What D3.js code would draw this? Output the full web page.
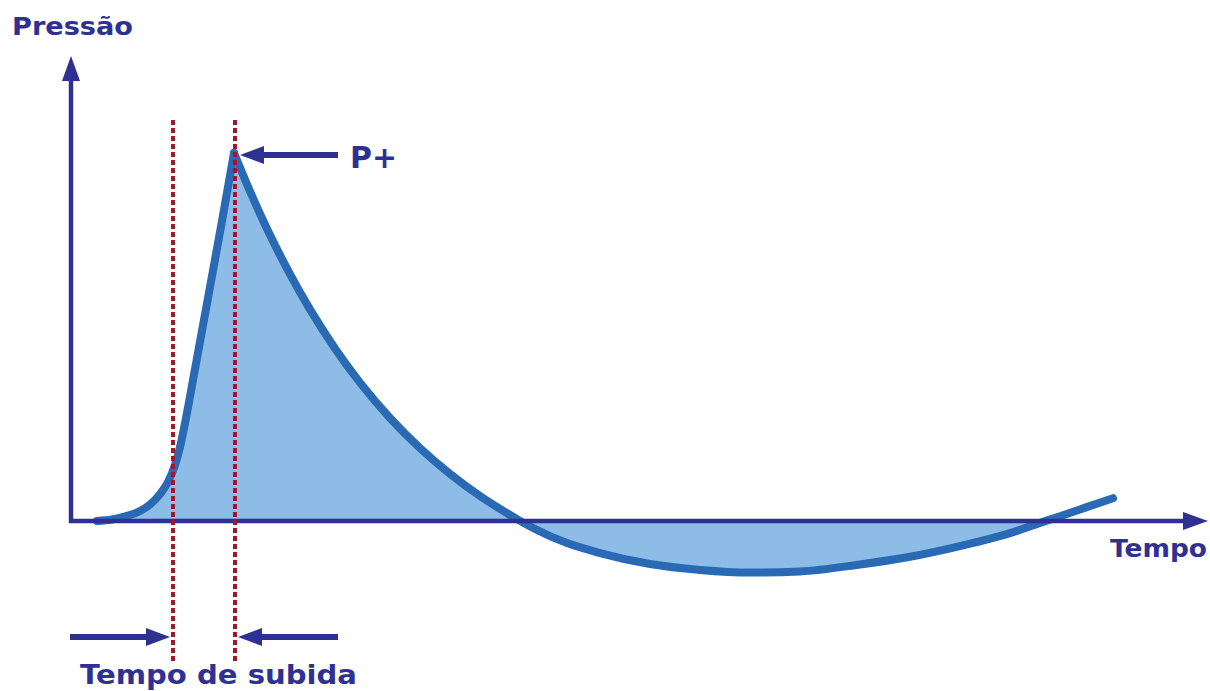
<!DOCTYPE html>
<html><head><meta charset="utf-8">
<script src="https://cdn.jsdelivr.net/npm/d3@7"></script>
<style>html,body{margin:0;padding:0;background:#fff;}svg{display:block;}</style>
</head><body>
<svg id="chart" width="1210" height="691"></svg>
<script>
// ---- data (time in arbitrary units, pressure normalised to P+ = 1) ----
const riseTime     = [2.6, 4.1, 5.6, 6.9, 7.9, 8.9, 9.7, 10.4, 10.9, 11.5, 12.4, 13.9, 15.1, 16.3];
const risePressure = [0, 0.004, 0.014, 0.027, 0.045, 0.073, 0.106, 0.152, 0.201, 0.280, 0.413, 0.636, 0.815, 1.0];
const fallTime     = [16.3, 17.9, 19.9, 21.9, 23.9, 26.4, 28.9, 31.9, 34.9, 37.9, 40.9, 42.9, 44.6, 46.2, 49.6, 52.9, 57.9, 62.9, 67.9, 72.9, 78.9, 83.9, 88.9, 93.9, 96.9, 98.9, 101.5, 104.2];
const fallPressure = [1.0, 0.896, 0.777, 0.671, 0.575, 0.469, 0.376, 0.280, 0.198, 0.128, 0.068, 0.033, 0.005, -0.019, -0.060, -0.087, -0.117, -0.133, -0.140, -0.137, -0.118, -0.097, -0.068, -0.033, -0.005, 0.013, 0.037, 0.062];
const riseStart = 10.2;   // start of rise time marker
const peakTime  = 16.4;   // time of P+
const markers   = [riseStart, peakTime];
const labels = {y: "Pressão", x: "Tempo", peak: "P+", rise: "Tempo de subida"};

// ---- scales ----
const x = d3.scaleLinear().domain([0, 100]).range([71, 1071]);
const y = d3.scaleLinear().domain([0, 1]).range([521, 153]);

const svg = d3.select("#chart");
const navy = "#2e3192", curveBlue = "#2a6ab5", fillBlue = "#8dbce6", red = "#9b1b2b";

const rise = riseTime.map((t, i) => [t, risePressure[i]]);
const fall = fallTime.map((t, i) => [t, fallPressure[i]]);

// fill: until the second zero crossing
const zeroCross = 97.3;
const fillFall = fall.filter(d => d[0] < zeroCross).concat([[zeroCross, 0]]);

const lineM = d3.line().x(d => x(d[0])).y(d => y(d[1])).curve(d3.curveMonotoneX);
const riseD = lineM(rise);
const fallD = lineM(fall);
const fillD = riseD + "L" + lineM(fillFall).slice(1) + "Z";

svg.append("path").attr("d", fillD).attr("fill", fillBlue).attr("stroke", "none");

function arrowHead(g, tip, dir, len, half) {
  const [tx, ty] = tip, [dx, dy] = dir, px = -dy, py = dx;
  const bx = tx - dx * len, by = ty - dy * len;
  g.append("path")
    .attr("d", `M${tx},${ty}L${bx + px * half},${by + py * half}L${bx - px * half},${by - py * half}Z`)
    .attr("fill", navy);
}
const x0 = x(0), yTop = 56, xEnd = 1208;

// curve
[riseD, fallD].forEach(d => svg.append("path").attr("d", d).attr("fill", "none")
  .attr("stroke", curveBlue).attr("stroke-width", 8)
  .attr("stroke-linecap", "round").attr("stroke-linejoin", "round"));

// axes
const axes = svg.append("g");
axes.append("line").attr("x1", x0).attr("y1", y(0) + 2).attr("x2", x0).attr("y2", yTop + 20)
  .attr("stroke", navy).attr("stroke-width", 4.5);
arrowHead(axes, [x0, yTop], [0, -1], 25, 9);
axes.append("line").attr("x1", x0 - 2).attr("y1", y(0)).attr("x2", xEnd - 20).attr("y2", y(0))
  .attr("stroke", navy).attr("stroke-width", 4.5);
arrowHead(axes, [xEnd, y(0)], [1, 0], 25, 9);

// dotted markers
svg.selectAll("line.marker").data(markers).join("line").attr("class", "marker")
  .attr("x1", d => x(d)).attr("x2", d => x(d)).attr("y1", 120).attr("y2", 662)
  .attr("stroke", red).attr("stroke-width", 4).attr("stroke-dasharray", "5,3");

// arrows
function arrow(x1, x2, yy) {
  const dir = Math.sign(x2 - x1);
  const g = svg.append("g");
  g.append("line").attr("x1", x1).attr("y1", yy).attr("x2", x2 - dir * 20).attr("y2", yy)
    .attr("stroke", navy).attr("stroke-width", 6);
  arrowHead(g, [x2, yy], [dir, 0], 24, 9);
}
arrow(338, x(peakTime) + 5, y(1) + 2);
arrow(70, x(riseStart) - 3, 637);
arrow(338, x(peakTime) + 3, 637);

// texts
const font = "'DejaVu Sans', sans-serif";
function label(txt, xx, yy, size, len) {
  svg.append("text").attr("x", xx).attr("y", yy).text(txt)
    .attr("font-family", font).attr("font-weight", "bold").attr("font-size", size)
    .attr("fill", navy).attr("textLength", len).attr("lengthAdjust", "spacingAndGlyphs");
}
label(labels.y, 12, 35, 25, 121);
label(labels.peak, 350, 168, 30, 47);
label(labels.x, 1110, 557, 24, 97);
label(labels.rise, 80, 684, 26, 277);
</script>
</body></html>
